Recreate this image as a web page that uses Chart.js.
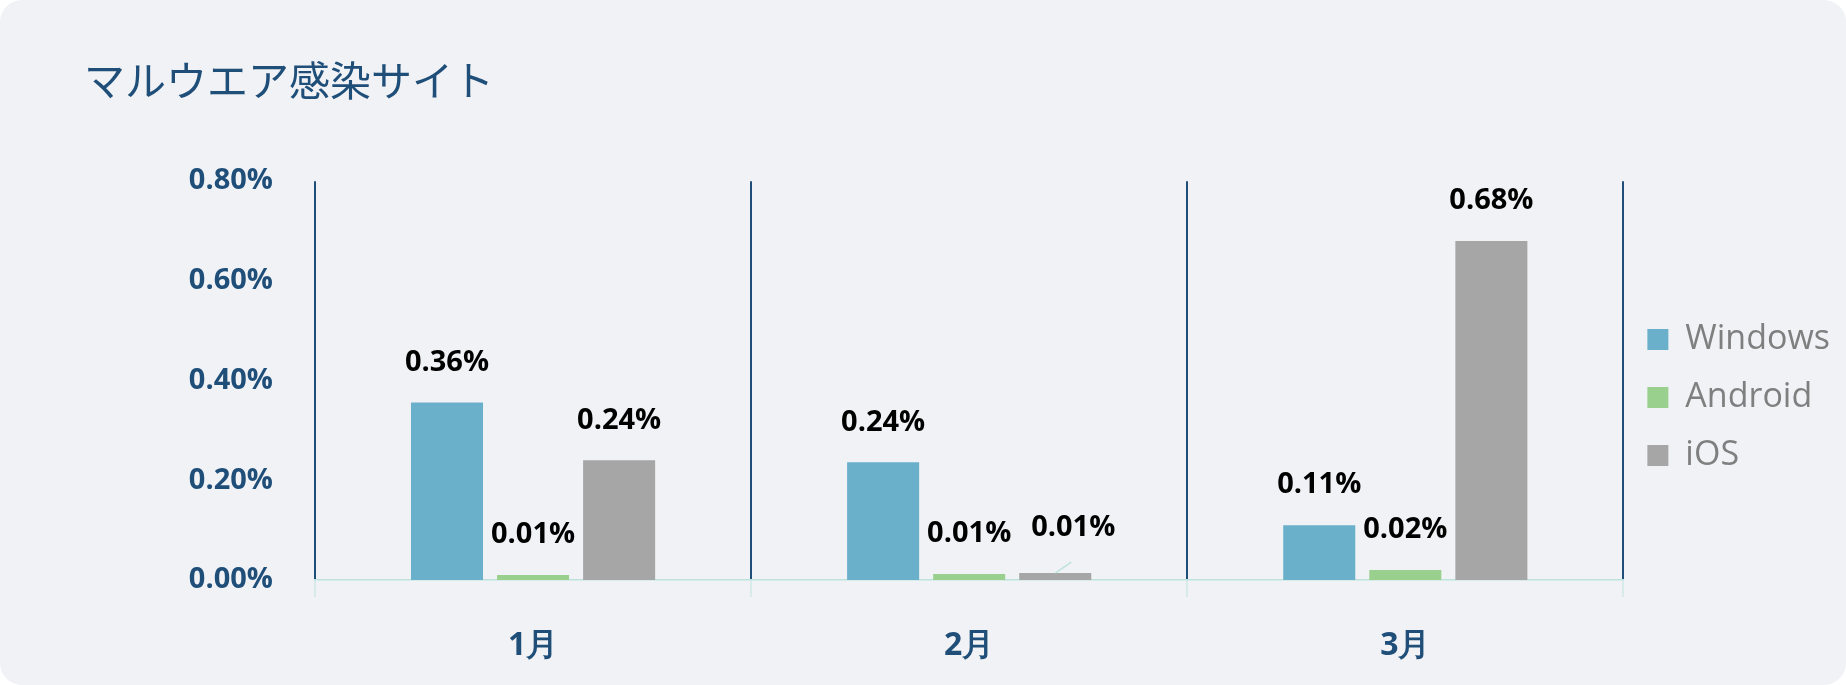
<!DOCTYPE html>
<html lang="ja">
<head>
<meta charset="utf-8">
<script src="https://cdn.jsdelivr.net/npm/chart.js@4.4.0/dist/chart.umd.min.js"></script>
<style>
  html, body { margin: 0; padding: 0; background: #ffffff; }
  #card { width: 1846px; height: 685px; background: #f0f2f5; border-radius: 22px; overflow: hidden; }
  canvas { display: block; }
</style>
</head>
<body>
<div id="card"><canvas id="chart" width="1846" height="685"></canvas></div>
<script>
const titleText = 'マルウエア感染サイト';
const months = ['1月', '2月', '3月'];
const seriesNames = ['Windows', 'Android', 'iOS'];
const windowsValues = [0.356, 0.236, 0.11];
const androidValues = [0.01, 0.012, 0.02];
const iosValues = [0.24, 0.014, 0.68];
const yTicks = [0, 0.2, 0.4, 0.6, 0.8];

const NAVY = '#1f4e79';
const TEAL = '#bde3df';
const colors = ['#6ab0cb', '#9ad08e', '#a6a6a6'];

// the one label that was moved aside, with a short leader line
const movedLabel = { dataset: 2, index: 1, dx: 18, dy: -5 };

const valueLabels = {
  id: 'valueLabels',
  afterDatasetsDraw(chart) {
    const ctx = chart.ctx;
    ctx.save();
    ctx.font = 'bold 29px "Open Sans"';
    ctx.fillStyle = '#000000';
    ctx.textAlign = 'center';
    ctx.textBaseline = 'middle';
    chart.data.datasets.forEach((ds, di) => {
      chart.getDatasetMeta(di).data.forEach((bar, i) => {
        let x = bar.x, y = bar.y - 40;
        if (di === movedLabel.dataset && i === movedLabel.index) {
          x += movedLabel.dx;
          y += movedLabel.dy;
          ctx.strokeStyle = TEAL;
          ctx.lineWidth = 1.5;
          ctx.beginPath();
          ctx.moveTo(bar.x, bar.y);
          ctx.lineTo(bar.x + 16, bar.y - 11);
          ctx.stroke();
        }
        ctx.fillText(ds.data[i].toFixed(2) + '%', x, y);
      });
    });
    ctx.restore();
  }
};

const ctx = document.getElementById('chart').getContext('2d');
new Chart(ctx, {
  type: 'bar',
  data: {
    labels: months,
    datasets: [
      { label: seriesNames[0], data: windowsValues, backgroundColor: colors[0] },
      { label: seriesNames[1], data: androidValues, backgroundColor: colors[1] },
      { label: seriesNames[2], data: iosValues, backgroundColor: colors[2] }
    ]
  },
  options: {
    responsive: false,
    devicePixelRatio: 1,
    animation: false,
    categoryPercentage: 0.592,
    barPercentage: 0.837,
    layout: { padding: { left: 84, right: 6, top: 0, bottom: 23 } },
    plugins: {
      title: {
        display: true,
        text: titleText,
        align: 'start',
        color: NAVY,
        font: { family: '"Noto Sans CJK JP"', size: 41, weight: 'normal', lineHeight: 1.2 },
        padding: { top: 56, bottom: 76 }
      },
      legend: {
        position: 'right',
        fullSize: false,
        align: 'center',
        maxWidth: 223,
        title: { display: true, text: ' ', font: { size: 10, lineHeight: 1 }, padding: { top: 0, bottom: 24 } },
        labels: {
          boxWidth: 21,
          boxHeight: 21,
          padding: 24,
          color: '#7f7f7f',
          font: { family: '"Open Sans"', size: 34 }
        }
      },
      tooltip: { enabled: false }
    },
    scales: {
      x: {
        afterFit: (scale) => { scale.height = 82; },
        grid: {
          offset: true,
          color: NAVY,
          lineWidth: 2,
          tickColor: TEAL,
          tickWidth: 1,
          tickLength: 17
        },
        border: { color: TEAL, width: 1.5 },
        ticks: {
          color: NAVY,
          padding: 30,
          font: { family: '"Open Sans"', size: 32, weight: 'bold' }
        }
      },
      y: {
        min: 0,
        max: 0.8,
        afterBuildTicks: (scale) => { scale.ticks = yTicks.map(v => ({ value: v })); },
        afterFit: (scale) => { scale.width = 231; },
        grid: { display: false, drawTicks: false },
        border: { display: false },
        ticks: {
          color: NAVY,
          padding: 42,
          font: { family: '"Open Sans"', size: 29, weight: 'bold' },
          callback: (v) => v.toFixed(2) + '%'
        }
      }
    }
  },
  plugins: [valueLabels]
});
</script>
</body>
</html>
